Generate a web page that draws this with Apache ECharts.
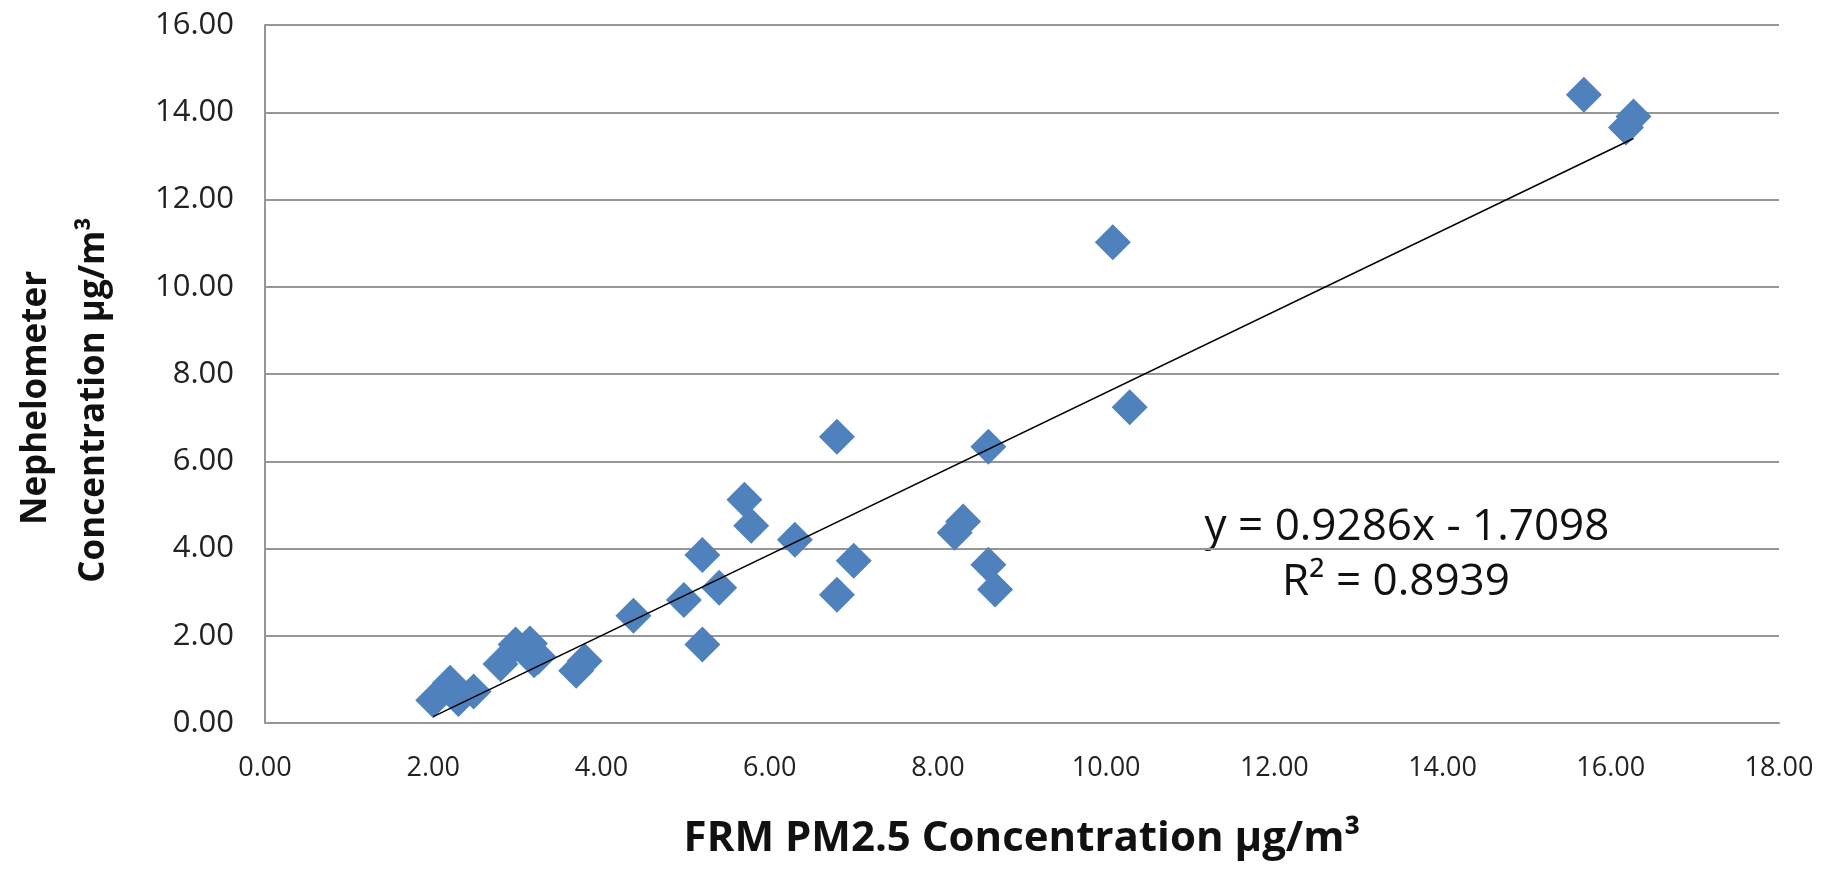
<!DOCTYPE html>
<html>
<head>
<meta charset="utf-8">
<script src="https://cdn.jsdelivr.net/npm/echarts@6/dist/echarts.min.js"></script>
<style>
html,body{margin:0;padding:0;background:#fff;}
#chart{width:1832px;height:869px;}
</style>
</head>
<body>
<div id="chart"></div>
<script>
// FRM PM2.5 (x) vs Nephelometer (y) concentrations, µg/m³
const frmValues = [2.0, 2.2, 2.3, 2.48, 2.8, 2.98, 3.15, 3.25, 3.2, 3.7, 3.8, 4.38, 4.98, 5.2, 5.2, 5.4, 5.7, 5.78, 6.3, 6.8, 6.8, 7.0, 8.2, 8.3, 8.6, 8.6, 8.68, 10.08, 10.28, 15.68, 16.18, 16.27];
const nephValues = [0.52, 0.92, 0.55, 0.72, 1.35, 1.8, 1.82, 1.52, 1.44, 1.2, 1.42, 2.46, 2.82, 1.8, 3.85, 3.1, 5.12, 4.52, 4.2, 6.56, 2.94, 3.72, 4.36, 4.62, 6.33, 3.63, 3.06, 11.02, 7.24, 14.4, 13.65, 13.9];
const xTicks = [0, 2, 4, 6, 8, 10, 12, 14, 16, 18];
const yTicks = [0, 2, 4, 6, 8, 10, 12, 14, 16];
const trendSlope = 0.9286;
const trendIntercept = -1.7098;
const rSquared = 0.8939;
const xTitle = 'FRM PM2.5 Concentration µg/m³';
const yTitleLines = ['Nephelometer', 'Concentration µg/m³'];

const points = frmValues.map((x, i) => [x, nephValues[i]]);
const xMin = Math.min(...frmValues), xMax = Math.max(...frmValues);
const trend = [[xMin, trendSlope * xMin + trendIntercept], [xMax, trendSlope * xMax + trendIntercept]];

const chart = echarts.init(document.getElementById('chart'));
const gridColor = '#969696';
const font = "'Open Sans', 'DejaVu Sans', sans-serif";
chart.setOption({
  animation: false,
  grid: {left: 265, right: 53, top: 25, bottom: 146, outerBoundsMode: 'none', containLabel: false},
  xAxis: {
    type: 'value', min: xTicks[0], max: xTicks[xTicks.length - 1], interval: 2,
    axisLine: {show: true, lineStyle: {color: gridColor, width: 2}},
    axisTick: {show: false},
    splitLine: {show: false},
    axisLabel: {formatter: v => v.toFixed(2), fontSize: 27, color: '#222', fontFamily: font, margin: 32},
    name: xTitle, nameLocation: 'middle', nameGap: 95,
    nameTextStyle: {fontSize: 42, fontWeight: 'bold', color: '#111', fontFamily: font}
  },
  yAxis: {
    type: 'value', min: yTicks[0], max: yTicks[yTicks.length - 1], interval: 2,
    axisLine: {show: true, lineStyle: {color: gridColor, width: 2}},
    axisTick: {show: false},
    splitLine: {show: true, lineStyle: {color: gridColor, width: 2}},
    axisLabel: {formatter: v => v.toFixed(2), fontSize: 31, color: '#222', fontFamily: font, margin: 31}
  },
  series: [
    {
      type: 'scatter', data: points, symbol: 'diamond', symbolSize: 36,
      itemStyle: {color: '#4F81BD', opacity: 1}, z: 3
    },
    {
      type: 'line', data: trend, symbol: 'none', silent: true,
      lineStyle: {color: '#000', width: 1.5}, z: 4
    }
  ],
  graphic: [
    {
      type: 'text', x: 36, y: 398, rotation: Math.PI / 2,
      style: {text: yTitleLines[0], fontSize: 35, fontWeight: 'bold', fontFamily: font, fill: '#111', align: 'center', verticalAlign: 'middle'}
    },
    {
      type: 'text', x: 94, y: 400, rotation: Math.PI / 2,
      style: {text: yTitleLines[1], fontSize: 35, fontWeight: 'bold', fontFamily: font, fill: '#111', align: 'center', verticalAlign: 'middle'}
    },
    {
      type: 'text', x: 1407, y: 527,
      style: {text: 'y = ' + trendSlope.toFixed(4) + 'x - ' + Math.abs(trendIntercept).toFixed(4), fontSize: 44, fontFamily: font, fill: '#111', align: 'center', verticalAlign: 'middle'}
    },
    {
      type: 'text', x: 1396, y: 582,
      style: {text: 'R² = ' + rSquared.toFixed(4), fontSize: 44, fontFamily: font, fill: '#111', align: 'center', verticalAlign: 'middle'}
    }
  ]
});
</script>
</body>
</html>
